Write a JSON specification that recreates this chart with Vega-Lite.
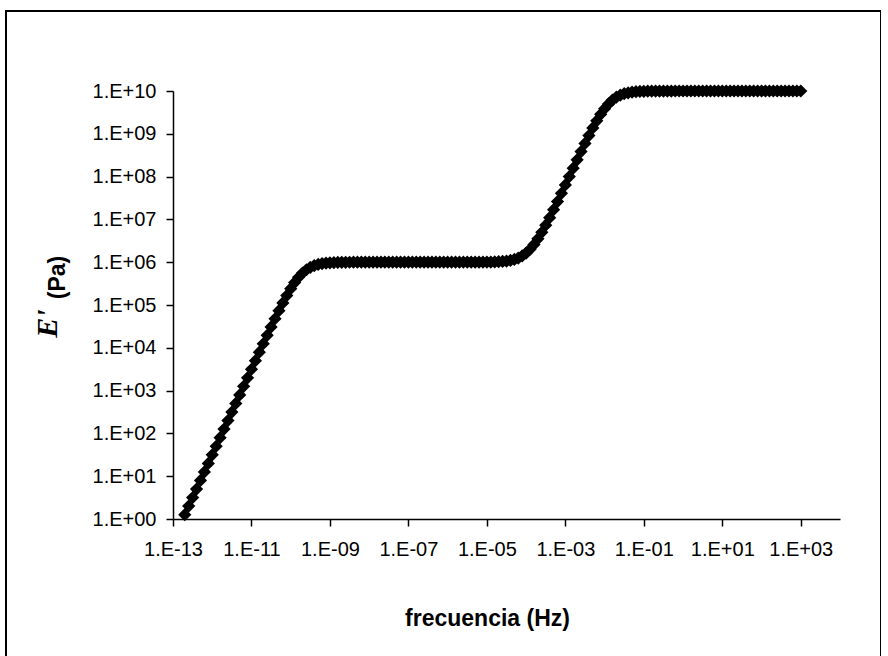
{
"$schema": "https://vega.github.io/schema/vega-lite/v6.json",
"width": 875, "height": 700,
"autosize": "none",
"padding": {"left": 6, "top": 11, "right": 0, "bottom": 0},
"background": "white",
"config": {"view": {"stroke": "black", "strokeWidth": 2}},
"data": {"values": [
{"f":1.995e-13,"E":1.26},{"f":2.512e-13,"E":2.0},{"f":3.162e-13,"E":3.16},{"f":3.981e-13,"E":5.01},{"f":5.012e-13,"E":7.94},{"f":6.310e-13,"E":12.6},{"f":7.943e-13,"E":19.9},
{"f":1e-12,"E":31.6},{"f":1.259e-12,"E":50.1},{"f":1.585e-12,"E":79.4},{"f":1.995e-12,"E":126},{"f":2.512e-12,"E":200},{"f":3.162e-12,"E":316},{"f":3.981e-12,"E":501},{"f":5.012e-12,"E":794},{"f":6.310e-12,"E":1257},{"f":7.943e-12,"E":1991},
{"f":1e-11,"E":3152},{"f":1.259e-11,"E":4987},{"f":1.585e-11,"E":7880},{"f":1.995e-11,"E":12432},{"f":2.512e-11,"E":19563},{"f":3.162e-11,"E":30654},{"f":3.981e-11,"E":47727},{"f":5.012e-11,"E":73588},{"f":6.310e-11,"E":111815},{"f":7.943e-11,"E":166338},
{"f":1e-10,"E":240253},{"f":1.259e-10,"E":333861},{"f":1.585e-10,"E":442688},{"f":1.995e-10,"E":557312},{"f":2.512e-10,"E":666139},{"f":3.162e-10,"E":759747},{"f":3.981e-10,"E":833662},{"f":5.012e-10,"E":888185},{"f":6.310e-10,"E":926412},{"f":7.943e-10,"E":952273},
{"f":1e-9,"E":969346},{"f":1.259e-9,"E":980437},{"f":1.585e-9,"E":987568},{"f":1.995e-9,"E":992120},{"f":2.512e-9,"E":995013},{"f":3.162e-9,"E":996848},{"f":3.981e-9,"E":998008},{"f":5.012e-9,"E":998742},{"f":6.310e-9,"E":999206},{"f":7.943e-9,"E":999499},
{"f":1e-8,"E":999684},{"f":1.259e-8,"E":999800},{"f":1.585e-8,"E":999874},{"f":1.995e-8,"E":999920},{"f":2.512e-8,"E":999950},{"f":3.162e-8,"E":999968},{"f":3.981e-8,"E":999980},{"f":5.012e-8,"E":999987},{"f":6.310e-8,"E":999992},{"f":7.943e-8,"E":999995},
{"f":1e-7,"E":999997},{"f":1.259e-7,"E":1000000},{"f":1.585e-7,"E":1000000},{"f":1.995e-7,"E":1000000},{"f":2.512e-7,"E":1000000},{"f":3.162e-7,"E":1000000},{"f":3.981e-7,"E":1000000},{"f":5.012e-7,"E":1000000},{"f":6.310e-7,"E":1000000},{"f":7.943e-7,"E":1000000},
{"f":1e-6,"E":1000000},{"f":1.259e-6,"E":1000100},{"f":1.585e-6,"E":1000158},{"f":1.995e-6,"E":1000251},{"f":2.512e-6,"E":1000398},{"f":3.162e-6,"E":1000631},{"f":3.981e-6,"E":1001000},{"f":5.012e-6,"E":1001585},{"f":6.310e-6,"E":1002512},{"f":7.943e-6,"E":1003981},
{"f":1e-5,"E":1006310},{"f":1.259e-5,"E":1010000},{"f":1.585e-5,"E":1015849},{"f":1.995e-5,"E":1025119},{"f":2.512e-5,"E":1039811},{"f":3.162e-5,"E":1063096},{"f":3.981e-5,"E":1100000},{"f":5.012e-5,"E":1158489},{"f":6.310e-5,"E":1251189},{"f":7.943e-5,"E":1398107},
{"f":1e-4,"E":1630957},{"f":1.259e-4,"E":2000000},{"f":1.585e-4,"E":2584893},{"f":1.995e-4,"E":3511886},{"f":2.512e-4,"E":4981000},{"f":3.162e-4,"E":7306000},{"f":3.981e-4,"E":10990000},{"f":5.012e-4,"E":16824000},{"f":6.310e-4,"E":26056000},{"f":7.943e-4,"E":40653000},
{"f":1e-3,"E":63700000},{"f":1.259e-3,"E":100010000},{"f":1.585e-3,"E":157020000},{"f":1.995e-3,"E":246030000},{"f":2.512e-3,"E":383870000},{"f":3.162e-3,"E":594500000},{"f":3.981e-3,"E":910100000},{"f":5.012e-3,"E":1368100000},{"f":6.310e-3,"E":2007600000},{"f":7.943e-3,"E":2847400000},
{"f":1e-2,"E":3868700000},{"f":1.259e-2,"E":5000000000},{"f":1.585e-2,"E":6131000000},{"f":1.995e-2,"E":7152600000},{"f":2.512e-2,"E":7992400000},{"f":3.162e-2,"E":8631900000},{"f":3.981e-2,"E":9090900000},{"f":5.012e-2,"E":9406500000},{"f":6.310e-2,"E":9617100000},{"f":7.943e-2,"E":9755000000},
{"f":0.1,"E":9844000000},{"f":0.1259,"E":9901000000},{"f":0.1585,"E":9937300000},{"f":0.1995,"E":9960300000},{"f":0.2512,"E":9974900000},{"f":0.3162,"E":9984200000},{"f":0.3981,"E":9990000000},{"f":0.5012,"E":9993700000},{"f":0.6310,"E":9996000000},{"f":0.7943,"E":9997500000},
{"f":1,"E":10000000000},{"f":1.259,"E":10000000000},{"f":1.585,"E":10000000000},{"f":1.995,"E":10000000000},{"f":2.512,"E":10000000000},{"f":3.162,"E":10000000000},{"f":3.981,"E":10000000000},{"f":5.012,"E":10000000000},{"f":6.310,"E":10000000000},{"f":7.943,"E":10000000000},
{"f":10,"E":10000000000},{"f":12.59,"E":10000000000},{"f":15.85,"E":10000000000},{"f":19.95,"E":10000000000},{"f":25.12,"E":10000000000},{"f":31.62,"E":10000000000},{"f":39.81,"E":10000000000},{"f":50.12,"E":10000000000},{"f":63.10,"E":10000000000},{"f":79.43,"E":10000000000},
{"f":100,"E":10000000000},{"f":125.9,"E":10000000000},{"f":158.5,"E":10000000000},{"f":199.5,"E":10000000000},{"f":251.2,"E":10000000000},{"f":316.2,"E":10000000000},{"f":398.1,"E":10000000000},{"f":501.2,"E":10000000000},{"f":631.0,"E":10000000000},{"f":794.3,"E":10000000000},
{"f":1000,"E":10000000000}
]},
"layer": [
{
"mark": {"type": "point", "shape": "diamond", "filled": true, "color": "black", "size": 175, "opacity": 1},
"encoding": {
"x": {"field": "f", "type": "quantitative",
 "scale": {"type": "log", "domain": [1e-13, 10000], "range": [167, 834], "nice": false},
 "axis": {"orient": "bottom", "offset": -192, "grid": false,
  "values": [1e-13, 1e-11, 1e-9, 1e-7, 1e-5, 1e-3, 1e-1, 10, 1000],
  "labelExpr": "'1.E' + (round(log(datum.value)/LN10) >= 0 ? '+' : '-') + (abs(round(log(datum.value)/LN10)) < 10 ? '0' : '') + abs(round(log(datum.value)/LN10))",
  "labelFont": "Liberation Sans", "labelFontSize": 20, "labelColor": "black", "labelPadding": 13, "labelFlush": false, "labelOverlap": false,
  "tickSize": 7, "tickColor": "black", "tickWidth": 1.5, "domainColor": "black", "domainWidth": 1.5,
  "title": "frecuencia (Hz)", "titleFont": "Liberation Sans", "titleFontSize": 23, "titleFontWeight": "bold", "titleColor": "black",
  "titleX": 481, "titleY": 99, "titleAlign": "center", "titleBaseline": "middle", "titleAnchor": null}},
"y": {"field": "E", "type": "quantitative",
 "scale": {"type": "log", "domain": [1, 10000000000], "range": [508, 80], "nice": false},
 "axis": {"orient": "left", "offset": -167, "grid": false,
  "values": [1, 10, 100, 1000, 10000, 100000, 1000000, 10000000, 100000000, 1000000000, 10000000000],
  "labelExpr": "'1.E' + (round(log(datum.value)/LN10) >= 0 ? '+' : '-') + (abs(round(log(datum.value)/LN10)) < 10 ? '0' : '') + abs(round(log(datum.value)/LN10))",
  "labelFont": "Liberation Sans", "labelFontSize": 20, "labelColor": "black", "labelPadding": 10, "labelFlush": false, "labelOverlap": false,
  "tickSize": 7, "tickColor": "black", "tickWidth": 1.5, "domainColor": "black", "domainWidth": 1.5,
  "title": "(Pa)", "titleFont": "Liberation Sans", "titleFontSize": 23, "titleFontWeight": "bold", "titleColor": "black",
  "titleAngle": -90, "titleX": -116, "titleY": 266, "titleAlign": "center", "titleBaseline": "middle"}}
}
},
{
"mark": {"type": "point", "opacity": 0},
"encoding": {
"x": {"field": "f", "type": "quantitative"},
"y": {"field": "E", "type": "quantitative",
 "axis": {"orient": "left", "offset": -167, "grid": false, "labels": false, "ticks": false, "domain": false,
  "title": "E'", "titleFont": "Liberation Serif", "titleFontSize": 30, "titleFontWeight": "bold", "titleFontStyle": "italic", "titleColor": "black",
  "titleAngle": -90, "titleX": -126, "titleY": 312, "titleAlign": "center", "titleBaseline": "middle"}}
}
}
],
"resolve": {"axis": {"y": "independent"}}
}
